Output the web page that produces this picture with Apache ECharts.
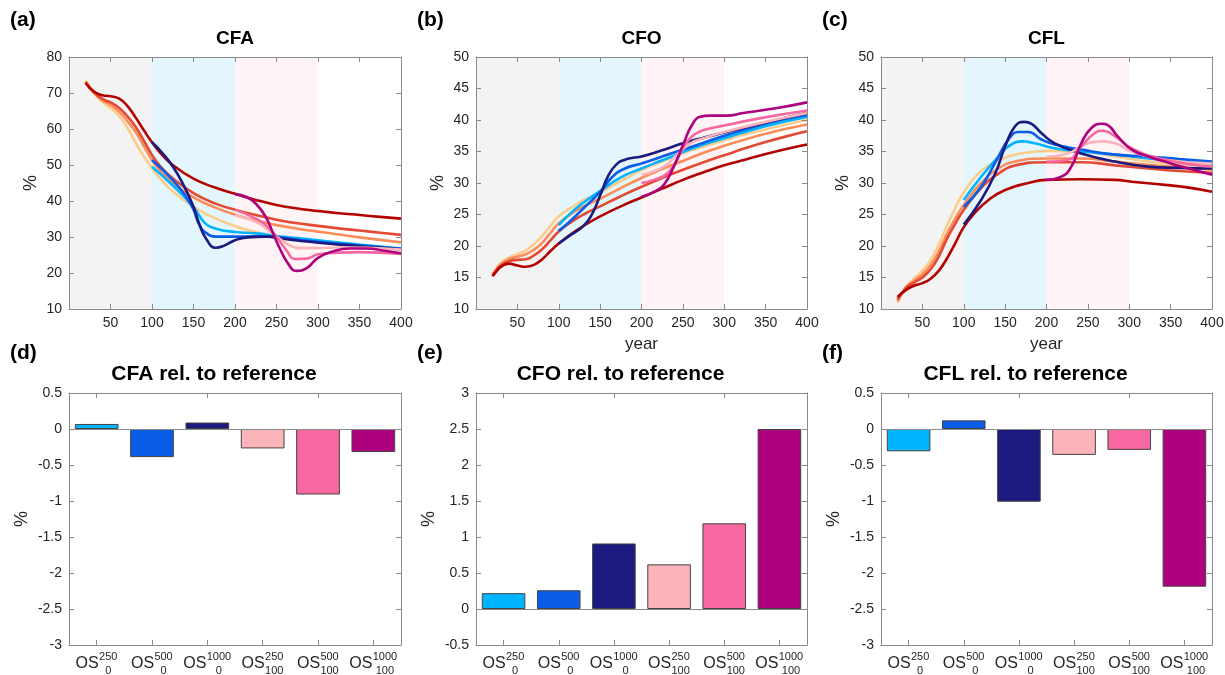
<!DOCTYPE html>
<html><head><meta charset="utf-8">
<script src="https://cdn.jsdelivr.net/npm/echarts@6/dist/echarts.min.js"></script>
<style>html,body{margin:0;padding:0;background:#fff}#c{width:1225px;height:675px}</style>
</head><body><div id="c"></div>
<script>
// ---------------- DATA ----------------
// CFA (%)
const cfaDarkRed = [[20,72.8],[30,70.4],[40,69.4],[50,69.1],[60,68.5],[70,66.5],[80,63.3],[90,59.7],[100,56.3],[110,53.4],[125,50.0],[150,46.2],[175,43.8],[200,42.0],[225,40.3],[250,38.9],[275,37.9],[300,37.2],[325,36.6],[350,36.1],[375,35.6],[400,35.1]];
const cfaRed = [[20,73.0],[30,70.2],[40,68.4],[50,67.4],[60,65.9],[70,63.6],[80,60.7],[90,56.8],[100,52.8],[110,49.7],[125,46.3],[150,42.2],[175,39.4],[200,37.6],[225,36.1],[250,34.8],[275,33.8],[300,33.1],[325,32.4],[350,31.8],[375,31.2],[400,30.6]];
const cfaOrange = [[20,73.2],[30,70.1],[40,68.0],[50,66.7],[60,64.9],[70,62.3],[80,59.3],[90,55.3],[100,51.4],[110,48.3],[125,45.0],[150,41.0],[175,38.3],[200,36.2],[225,34.6],[250,33.3],[275,32.3],[300,31.5],[325,30.7],[350,29.9],[375,29.2],[400,28.5]];
const cfaLightOrange = [[20,73.4],[30,70.0],[40,67.6],[50,65.8],[60,63.7],[70,60.5],[80,56.3],[90,52.4],[100,49.2],[110,46.2],[125,42.7],[150,38.4],[175,35.3],[200,33.0],[225,31.4],[250,30.3],[275,29.5],[300,28.9],[325,28.3],[350,27.7],[375,27.2],[400,26.7]];
const cfaLightBlue = [[100,49.5],[125,44.3],[150,38.3],[164,33.8],[177,32.3],[200,31.4],[225,31.0],[250,30.3],[275,29.7],[300,29.1],[350,27.9],[400,26.8]];
const cfaBlue = [[100,51.4],[125,45.8],[141,41.2],[150,37.6],[157,33.4],[166,31.0],[177,30.1],[200,30.1],[225,30.2],[250,30.0],[275,29.3],[300,28.7],[350,27.6],[400,26.7]];
const cfaNavy = [[100,56.3],[113,53.2],[125,49.6],[137,44.9],[150,38.4],[157,33.6],[165,29.6],[177,27.0],[187,27.6],[200,29.1],[215,29.9],[238,30.1],[258,29.5],[280,28.9],[300,28.4],[330,27.8],[360,27.3],[400,26.6]];
const cfaLightPink = [[200,36.1],[225,34.2],[240,32.0],[250,30.2],[262,28.2],[278,26.9],[300,26.9],[330,27.1],[360,27.0],[400,26.5]];
const cfaPink = [[200,37.6],[225,35.1],[237,33.3],[250,30.0],[262,26.3],[272,23.9],[286,24.0],[300,25.2],[320,25.6],[350,25.8],[400,25.3]];
const cfaMagenta = [[200,41.9],[214,41.1],[225,39.3],[237,35.6],[246,31.0],[254,26.8],[264,22.6],[274,20.6],[286,21.3],[300,24.2],[318,26.0],[338,26.8],[358,26.8],[380,26.2],[400,25.5]];

// CFO (%)
const cfoDarkRed = [[20,15.2],[25,16.0],[30,16.7],[40,17.2],[50,16.9],[60,16.7],[70,17.0],[80,17.9],[90,19.2],[100,20.4],[115,21.9],[130,23.2],[150,24.7],[175,26.3],[200,27.7],[225,29.1],[250,30.5],[275,31.7],[300,32.8],[325,33.7],[350,34.6],[375,35.4],[400,36.1]];
const cfoRed = [[20,15.3],[25,16.2],[30,16.9],[40,17.6],[50,17.8],[60,17.9],[70,18.5],[80,19.5],[90,20.9],[100,22.3],[115,23.8],[130,25.0],[150,26.3],[175,27.9],[200,29.4],[225,30.8],[250,32.1],[275,33.3],[300,34.4],[325,35.5],[350,36.5],[375,37.4],[400,38.2]];
const cfoOrange = [[20,15.4],[25,16.3],[30,17.1],[40,17.9],[50,18.3],[60,18.7],[70,19.4],[80,20.5],[90,22.1],[100,23.6],[115,25.1],[130,26.3],[150,27.5],[175,29.2],[200,30.8],[225,32.2],[250,33.5],[275,34.8],[300,35.9],[325,36.9],[350,37.8],[375,38.6],[400,39.3]];
const cfoLightOrange = [[20,15.5],[25,16.5],[30,17.3],[40,18.2],[50,18.7],[60,19.3],[70,20.3],[80,21.6],[90,23.2],[100,24.7],[115,26.1],[130,27.3],[150,28.5],[175,30.3],[200,32.0],[225,33.4],[250,34.7],[275,35.8],[300,36.8],[325,37.7],[350,38.5],[375,39.3],[400,40.0]];
const cfoLightBlue = [[100,23.3],[115,25.3],[130,26.9],[150,28.7],[175,30.9],[200,32.3],[225,33.6],[250,34.9],[275,36.1],[300,37.1],[325,38.1],[350,39.0],[375,39.8],[400,40.5]];
const cfoBlue = [[100,22.4],[115,24.1],[130,26.0],[150,28.6],[165,31.0],[180,32.3],[200,33.1],[225,34.2],[250,35.3],[275,36.4],[300,37.5],[325,38.5],[350,39.4],[375,40.2],[400,40.8]];
const cfoNavy = [[100,20.4],[115,21.8],[130,23.2],[140,25.0],[150,28.0],[160,31.2],[170,33.0],[180,33.7],[190,34.0],[200,34.2],[225,35.2],[250,36.3],[275,37.2],[300,38.0],[325,38.8],[350,39.6],[375,40.4],[400,41.1]];
const cfoLightPink = [[200,31.3],[227,32.6],[243,34.5],[259,36.3],[275,37.1],[303,38.2],[350,39.7],[400,41.1]];
const cfoPink = [[200,30.0],[215,30.5],[231,31.5],[243,33.7],[251,35.8],[263,37.6],[275,38.4],[303,39.2],[344,40.3],[400,41.5]];
const cfoMagenta = [[200,27.8],[215,28.6],[227,29.7],[239,32.6],[251,36.3],[261,39.2],[271,40.5],[283,40.7],[303,40.7],[323,41.1],[364,41.9],[400,42.8]];

// CFL (%)
const cflDarkRed = [[20,11.9],[30,13.0],[40,13.7],[50,14.1],[60,14.8],[70,16.1],[80,18.1],[90,20.5],[100,23.0],[113,25.2],[130,27.3],[150,28.9],[178,30.0],[200,30.5],[242,30.6],[283,30.5],[303,30.2],[343,29.7],[370,29.3],[400,28.6]];
const cflRed = [[20,11.5],[30,13.3],[40,14.2],[50,15.0],[60,16.3],[70,18.4],[80,21.2],[90,23.6],[100,25.7],[121,29.2],[142,31.5],[162,32.8],[199,33.3],[242,33.3],[283,32.8],[323,32.3],[360,31.9],[400,31.6]];
const cflOrange = [[20,11.2],[30,13.4],[40,14.5],[50,15.5],[60,17.0],[70,19.2],[80,22.0],[90,24.4],[100,26.5],[121,30.0],[142,32.3],[162,33.4],[199,33.9],[242,33.9],[283,33.4],[323,32.9],[360,32.5],[400,32.1]];
const cflLightOrange = [[20,11.0],[30,13.5],[40,14.8],[50,16.1],[60,17.8],[70,20.3],[80,23.3],[90,26.1],[100,28.5],[120,31.8],[142,33.6],[162,34.5],[182,34.9],[200,35.1],[242,35.0],[283,34.2],[323,33.4],[360,33.0],[400,32.6]];
const cflLightBlue = [[100,27.3],[121,31.0],[142,34.2],[154,35.8],[170,36.6],[186,36.3],[210,35.5],[242,35.0],[283,34.5],[323,33.9],[360,33.5],[400,33.1]];
const cflBlue = [[100,26.2],[121,29.4],[142,34.2],[154,36.9],[166,38.1],[178,38.1],[194,36.9],[210,36.1],[242,35.3],[283,34.5],[323,34.2],[360,33.8],[400,33.4]];
const cflNavy = [[100,23.4],[121,27.3],[138,31.5],[150,35.8],[162,39.0],[173,39.7],[182,39.4],[194,37.9],[210,36.3],[242,34.7],[283,33.4],[323,32.6],[360,32.4],[400,32.3]];
const cflLightPink = [[200,34.2],[226,34.7],[250,36.3],[267,36.6],[283,36.3],[303,35.0],[343,33.7],[400,33.1]];
const cflPink = [[200,33.4],[226,33.7],[242,35.8],[258,37.9],[268,38.3],[283,37.4],[303,35.5],[343,33.7],[400,32.6]];
const cflMagenta = [[200,30.5],[218,31.0],[230,32.6],[242,36.3],[254,38.7],[267,39.4],[274,39.2],[286,37.4],[303,35.3],[323,34.2],[343,33.4],[363,32.6],[400,31.3]];

// Bars: change relative to reference (%)
const barCats = ['OS_0^250','OS_0^500','OS_0^1000','OS_100^250','OS_100^500','OS_100^1000'];
const barSup = ['250','500','1000','250','500','1000'];
const barSub = ['0','0','0','100','100','100'];
const cfaRel = [0.07, -0.39, 0.09, -0.27, -0.91, -0.32];
const cfoRel = [0.22, 0.26, 0.91, 0.62, 1.19, 2.50];
const cflRel = [-0.31, 0.12, -1.01, -0.36, -0.29, -2.19];

// Shaded periods (years)
const periods = [[0,100],[100,200],[200,300]];

// ---------------- STYLE ----------------
const FONT = '"Liberation Sans", Arial, Helvetica, sans-serif';
const AX = '#8a8a8a', TXT = '#262626';
const C = {darkred:'#b30000', red:'#e34a33', orange:'#fc8d59', lightorange:'#fdcc8a',
  lightblue:'#00b4ff', blue:'#0b5ce6', navy:'#1c1a7e', lightpink:'#fbb4b9', pink:'#f768a1', magenta:'#ae017e'};
const barColors = [C.lightblue, C.blue, C.navy, C.lightpink, C.pink, C.magenta];
const bandColors = ['#f3f3f3', '#e3f6fd', '#fef4f5'];

const lefts = [69, 476, 881], widths = [332, 331, 331];
const topY = 57, botY = 393, H = 252;

const grids = [], xAxes = [], yAxes = [], series = [], titles = [];

function tick(){ return {show:true, inside:true, length:5, lineStyle:{color:AX}}; }
function aLine(){ return {show:true, onZero:false, lineStyle:{color:AX, width:1}}; }

function addTop(i, name, yMin, yMax, yInt, lines, showYear, plabel){
  const g = grids.length;
  grids.push({left:lefts[i], top:topY, width:widths[i], height:H, outerBoundsMode:'none'});
  const xi = xAxes.length;
  xAxes.push({gridIndex:g, type:'value', position:'bottom', min:0, max:400, interval:50, z:10,
    axisLine:aLine(), axisTick:tick(), splitLine:{show:false},
    axisLabel:{color:TXT, fontSize:14, fontFamily:FONT, margin:7, formatter:v=> v===0?'':String(v)},
    name: showYear?'year':'', nameLocation:'middle', nameGap:27,
    nameTextStyle:{color:TXT, fontSize:17, fontFamily:FONT}});
  xAxes.push({gridIndex:g, type:'value', position:'top', min:0, max:400, interval:50, z:10,
    axisLine:aLine(), axisTick:tick(), axisLabel:{show:false}, splitLine:{show:false}});
  const yi = yAxes.length;
  yAxes.push({gridIndex:g, type:'value', position:'left', min:yMin, max:yMax, interval:yInt, z:10,
    axisLine:aLine(), axisTick:tick(), splitLine:{show:false},
    axisLabel:{color:TXT, fontSize:14, fontFamily:FONT, margin:7},
    name:'%', nameLocation:'middle', nameRotate:90, nameGap:29,
    nameTextStyle:{color:TXT, fontSize:18, fontFamily:FONT}});
  yAxes.push({gridIndex:g, type:'value', position:'right', min:yMin, max:yMax, interval:yInt, z:10,
    axisLine:aLine(), axisTick:tick(), axisLabel:{show:false}, splitLine:{show:false}});
  series.push({type:'line', xAxisIndex:xi, yAxisIndex:yi, data:[], z:1, silent:true,
    markArea:{silent:true, z:1, data: periods.map((p,k)=>[{xAxis:p[0], itemStyle:{color:bandColors[k]}},{xAxis:p[1]}])}});
  lines.forEach(([d,col])=>{
    series.push({type:'line', xAxisIndex:xi, yAxisIndex:yi, data:d, showSymbol:false, symbol:'none',
      smooth:0.5, z:3, lineStyle:{color:col, width:2.6}});
  });
  const cx = lefts[i] + widths[i]/2;
  titles.push({text:name, left:cx, top:29, textAlign:'center', padding:0,
    textStyle:{fontSize:19, fontWeight:'bold', color:'#000', fontFamily:FONT}});
  titles.push({text:plabel, left:lefts[i]-59, top:10, padding:0,
    textStyle:{fontSize:21, fontWeight:'bold', color:'#000', fontFamily:FONT}});
}

function richSet(){
  const base = {fontFamily:FONT, lineHeight:16};
  return {
    os:{...base, fontSize:16, color:TXT}, oh:{...base, fontSize:16, color:'transparent'},
    h3:{...base, fontSize:11, width:19, color:'transparent'}, h4:{...base, fontSize:11, width:25, color:'transparent'},
    s3:{...base, fontSize:11, width:19, color:TXT}, s4:{...base, fontSize:11, width:25, color:TXT},
    b3:{...base, fontSize:11, width:19, color:TXT}, b4:{...base, fontSize:11, width:25, color:TXT}
  };
}

function addBar(i, name, yMin, yMax, vals, plabel){
  const g = grids.length;
  grids.push({left:lefts[i], top:botY, width:widths[i], height:H, outerBoundsMode:'none'});
  const xi = xAxes.length;
  const catBase = {gridIndex:g, type:'category', data:barCats, position:'bottom', z:10, splitLine:{show:false}};
  xAxes.push({...catBase, axisLine:aLine(), axisTick:{...tick(), alignWithLabel:true},
    axisLabel:{interval:0, margin:11, rich:richSet(),
      formatter:(v,k)=>`{os|OS}{h${barSup[k].length}|${barSup[k]}}`}});
  xAxes.push({...catBase, axisLine:{show:false, onZero:false}, axisTick:{show:false},
    axisLabel:{interval:0, margin:4, rich:richSet(),
      formatter:(v,k)=>`{oh|OS}{s${barSup[k].length}|${barSup[k]}}`}});
  xAxes.push({...catBase, axisLine:{show:false, onZero:false}, axisTick:{show:false},
    axisLabel:{interval:0, margin:18, rich:richSet(),
      formatter:(v,k)=>`{oh|OS}{b${barSup[k].length}|${barSub[k]}}`}});
  xAxes.push({...catBase, position:'top', axisLine:aLine(), axisTick:{...tick(), alignWithLabel:true},
    axisLabel:{show:false}});
  const yi = yAxes.length;
  yAxes.push({gridIndex:g, type:'value', position:'left', min:yMin, max:yMax, interval:0.5, z:10,
    axisLine:aLine(), axisTick:tick(), splitLine:{show:false},
    axisLabel:{color:TXT, fontSize:14, fontFamily:FONT, margin:7},
    name:'%', nameLocation:'middle', nameRotate:90, nameGap:38,
    nameTextStyle:{color:TXT, fontSize:18, fontFamily:FONT}});
  yAxes.push({gridIndex:g, type:'value', position:'right', min:yMin, max:yMax, interval:0.5, z:10,
    axisLine:aLine(), axisTick:tick(), axisLabel:{show:false}, splitLine:{show:false}});
  series.push({type:'bar', xAxisIndex:xi, yAxisIndex:yi, barCategoryGap:'21%',
    data: vals.map((v,k)=>({value:v, itemStyle:{color:barColors[k]}})),
    itemStyle:{borderColor:'#444', borderWidth:1},
    markLine:{silent:true, symbol:'none', label:{show:false}, animation:false,
      lineStyle:{color:AX, width:1, type:'solid'}, data:[{yAxis:0}]}});
  const cx = lefts[i] + widths[i]/2 - 21;
  titles.push({text:name, left:cx, top:364, textAlign:'center', padding:0,
    textStyle:{fontSize:21, fontWeight:'bold', color:'#000', fontFamily:FONT}});
  titles.push({text:plabel, left:lefts[i]-59, top:343, padding:0,
    textStyle:{fontSize:21, fontWeight:'bold', color:'#000', fontFamily:FONT}});
}

const warm = (a,b,c,d)=>[[a,C.lightorange],[b,C.orange],[c,C.red],[d,C.darkred]];
addTop(0, 'CFA', 10, 80, 10, [...warm(cfaLightOrange,cfaOrange,cfaRed,cfaDarkRed),
  [cfaLightBlue,C.lightblue],[cfaBlue,C.blue],[cfaNavy,C.navy],
  [cfaLightPink,C.lightpink],[cfaPink,C.pink],[cfaMagenta,C.magenta]], false, '(a)');
addTop(1, 'CFO', 10, 50, 5, [...warm(cfoLightOrange,cfoOrange,cfoRed,cfoDarkRed),
  [cfoLightBlue,C.lightblue],[cfoBlue,C.blue],[cfoNavy,C.navy],
  [cfoLightPink,C.lightpink],[cfoPink,C.pink],[cfoMagenta,C.magenta]], true, '(b)');
addTop(2, 'CFL', 10, 50, 5, [...warm(cflLightOrange,cflOrange,cflRed,cflDarkRed),
  [cflLightBlue,C.lightblue],[cflBlue,C.blue],[cflNavy,C.navy],
  [cflLightPink,C.lightpink],[cflPink,C.pink],[cflMagenta,C.magenta]], true, '(c)');
addBar(0, 'CFA rel. to reference', -3, 0.5, cfaRel, '(d)');
addBar(1, 'CFO rel. to reference', -0.5, 3, cfoRel, '(e)');
addBar(2, 'CFL rel. to reference', -3, 0.5, cflRel, '(f)');

const chart = echarts.init(document.getElementById('c'), null, {renderer:'canvas'});
chart.setOption({animation:false, backgroundColor:'#fff', title:titles, grid:grids,
  xAxis:xAxes, yAxis:yAxes, series:series});
</script>
</body></html>
